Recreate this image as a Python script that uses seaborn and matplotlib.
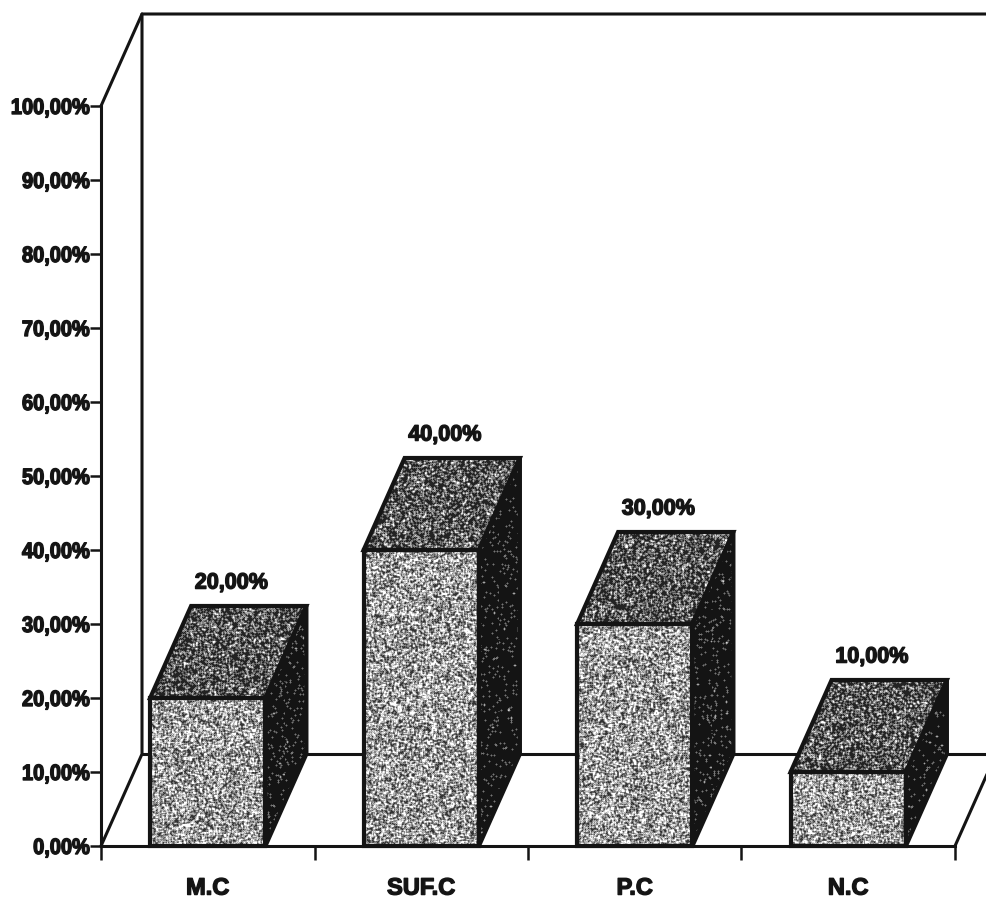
import numpy as np
import pandas as pd
import matplotlib
matplotlib.use("Agg")
import matplotlib.pyplot as plt
from matplotlib.patches import Polygon
from matplotlib.patheffects import AbstractPathEffect
from matplotlib.transforms import Affine2D
import seaborn as sns

categories = ["M.C", "SUF.C", "P.C", "N.C"]
values = [20, 40, 30, 10]
y_ticks = [0, 10, 20, 30, 40, 50, 60, 70, 80, 90, 100]

W, H = 987, 899
LEFT, RIGHT, BOTTOM, TOP = 101, 955, 846, 106
DX_PX, DY_PX = 41, 92
BAR_WIDTH = 0.54
INK = "#141414"

sns.set_theme(style="white")
plt.rcParams["font.family"] = ["Liberation Sans", "DejaVu Sans"]


class TightInk(AbstractPathEffect):
    """Narrows glyph runs about an anchor and thickens them a little."""

    def __init__(self, squeeze, anchor, weight=1.0):
        super().__init__()
        self.squeeze, self.anchor, self.weight = squeeze, anchor, weight

    def draw_path(self, renderer, gc, tpath, affine, rgbFace=None):
        pivot = tpath.get_extents().x1 * self.anchor
        narrowed = Affine2D().translate(-pivot, 0).scale(self.squeeze, 1).translate(pivot, 0) + affine
        stroke = renderer.new_gc()
        stroke.copy_properties(gc)
        stroke.set_linewidth(self.weight)
        stroke.set_foreground(INK)
        renderer.draw_path(stroke, tpath, narrowed, rgbFace)
        stroke.restore()


def pct(v):
    return f"{v:.2f}".replace(".", ",") + "%"


def stipple(rng, shape, white_share, floor, ceil):
    """Fine speckle between two greys, softened over neighbouring pixels."""
    raw = (rng.random(shape) < white_share).astype(float)
    soft = (2 * raw + np.roll(raw, 1, 0) + np.roll(raw, -1, 0)
            + np.roll(raw, 1, 1) + np.roll(raw, -1, 1)) / 6
    return floor + (ceil - floor) * np.clip(soft * 1.25, 0, 1)


fig = plt.figure(figsize=(W / 100, H / 100), dpi=100, facecolor="white")
ax = fig.add_axes([LEFT / W, 1 - BOTTOM / H, (RIGHT - LEFT) / W, (BOTTOM - TOP) / H])

df = pd.DataFrame({"category": categories, "value": values})
sns.barplot(data=df, x="category", y="value", width=BAR_WIDTH, color="#aaaaaa",
            saturation=1, edgecolor=INK, linewidth=2.6, ax=ax, zorder=5)

x_min, x_max, y_min, y_max = -0.5, 3.5, 0, 100
ax.set_xlim(x_min, x_max)
ax.set_ylim(y_min, y_max)
dx = DX_PX * (x_max - x_min) / (RIGHT - LEFT)
dy = DY_PX * (y_max - y_min) / (BOTTOM - TOP)

# Receding walls and floor of the box
wall = dict(color=INK, lw=2.2, clip_on=False, zorder=1, solid_capstyle="round")
ax.plot([x_min, x_min + dx, x_min + dx], [y_min, y_min + dy, y_max + dy], **wall)
ax.plot([x_min, x_min + dx, x_max + dx], [y_max, y_max + dy, y_max + dy], **wall)
ax.plot([x_min + dx, x_max + dx], [dy, dy], **wall)
ax.plot([x_max, x_max + dx], [0, dy], **wall)

# Speckled faces of each block
rng = np.random.default_rng(7)
for bar, value in zip(ax.patches, values):
    x0, x1 = bar.get_x(), bar.get_x() + bar.get_width()
    faces = [
        ([(x0, 0), (x1, 0), (x1, value), (x0, value)], 0.42, 0.2, 1.0),
        ([(x0, value), (x1, value), (x1 + dx, value + dy), (x0 + dx, value + dy)], 0.22, 0.14, 1.0),
        ([(x1, 0), (x1 + dx, dy), (x1 + dx, value + dy), (x1, value)], 0.03, 0.08, 1.0),
    ]
    for corners, share, floor, ceil in faces:
        xs, ys = zip(*corners)
        outline = Polygon(corners, closed=True, facecolor="none", edgecolor=INK,
                          lw=3.0, joinstyle="miter", clip_on=False, zorder=6)
        ax.add_patch(outline)
        w_px = int((max(xs) - min(xs)) * (RIGHT - LEFT) / (x_max - x_min)) + 1
        h_px = int((max(ys) - min(ys)) * (BOTTOM - TOP) / (y_max - y_min)) + 1
        img = ax.imshow(stipple(rng, (h_px, w_px), share, floor, ceil), cmap="gray", vmin=0, vmax=1,
                        extent=(min(xs), max(xs), min(ys), max(ys)), aspect="auto",
                        interpolation="nearest", zorder=5.5)
        img.set_clip_path(Polygon(corners, closed=True, transform=ax.transData))
    ax.annotate(pct(value), xy=((x0 + x1) / 2, value + dy), xytext=(17.0, 16.5),
                textcoords="offset points", ha="center", va="center",
                fontsize=16, fontweight="bold", color=INK, zorder=7,
                annotation_clip=False, path_effects=[TightInk(0.97, 0.5)])
    bar.set_visible(False)

ax.set_xlim(x_min, x_max)
ax.set_ylim(y_min, y_max)
ax.patch.set_alpha(0)

# Axes: group boundaries carry ticks, group centres carry names
ax.set_xticks(range(len(categories)), categories)
ax.set_xticks(np.arange(x_min, x_max + 1), minor=True)
ax.tick_params(axis="x", which="major", length=0, pad=22, labelsize=17, labelcolor=INK)
ax.tick_params(axis="x", which="minor", length=10, width=1.8, color=INK, bottom=True)
ax.set_yticks(y_ticks, [pct(v) for v in y_ticks])
ax.tick_params(axis="y", length=8, width=1.8, color=INK, left=True, pad=0,
               labelsize=16, labelcolor=INK)
for label in ax.get_xticklabels():
    label.set_fontweight("bold")
    label.set_path_effects([TightInk(1.0, 0.5)])
for label in ax.get_yticklabels():
    label.set_fontweight("bold")
    label.set_path_effects([TightInk(0.9, 1.0)])
ax.set_xlabel("")
ax.set_ylabel("")
sns.despine(ax=ax)
for side in ("left", "bottom"):
    ax.spines[side].set_linewidth(2.2)
    ax.spines[side].set_color(INK)
    ax.spines[side].set_zorder(8)

fig.savefig("out.png", dpi=100)
